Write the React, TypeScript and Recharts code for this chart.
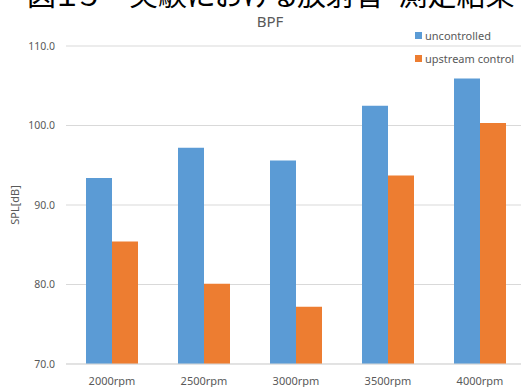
import React from 'react';
import { BarChart, Bar, XAxis, YAxis, CartesianGrid } from 'recharts';

// Sound pressure level at blade passing frequency, per rotation speed
const categories = ['2000rpm', '2500rpm', '3000rpm', '3500rpm', '4000rpm'];
const uncontrolled = [93.4, 97.2, 95.6, 102.5, 105.9];
const upstreamControl = [85.4, 80.1, 77.2, 93.7, 100.3];
const yTicks = [70, 80, 90, 100, 110];

const FONT = '"Noto Sans", "Noto Sans CJK JP", sans-serif';
const TEXT_GRAY = '#595959';
const BLUE = '#5B9BD5';
const ORANGE = '#ED7D31';

const series = [
  { key: 'uncontrolled', name: 'uncontrolled', color: BLUE, values: uncontrolled },
  { key: 'upstream', name: 'upstream control', color: ORANGE, values: upstreamControl },
];

const data = categories.map((name, i) => {
  const row: Record<string, string | number> = { name };
  series.forEach((s) => {
    row[s.key] = s.values[i];
  });
  return row;
});

const renderYLabel = (props: any) => {
  const vb = props.viewBox || { y: 46, height: 318 };
  const cy = vb.y + vb.height / 2;
  const x = 19;
  return (
    <text
      x={x}
      y={cy}
      transform={`rotate(-90 ${x} ${cy})`}
      textAnchor="middle"
      fill={TEXT_GRAY}
      fontSize={11}
      fontFamily={FONT}
    >
      SPL[dB]
    </text>
  );
};

function ChartLegend() {
  return (
    <div
      style={{
        position: 'absolute',
        left: 415,
        top: 24,
        fontFamily: FONT,
        fontSize: 11,
        color: TEXT_GRAY,
      }}
    >
      {series.map((s) => (
        <div key={s.key} style={{ display: 'flex', alignItems: 'center', height: 23, whiteSpace: 'nowrap' }}>
          <span style={{ display: 'inline-block', width: 7, height: 7, background: s.color, marginRight: 3 }} />
          <span>{s.name}</span>
        </div>
      ))}
    </div>
  );
}

export default function App() {
  return (
    <div
      style={{
        position: 'absolute',
        left: 0,
        top: 0,
        width: 521,
        height: 387,
        overflow: 'hidden',
        background: '#ffffff',
      }}
    >
      <div style={{ position: 'absolute', left: 0, top: 0 }}>
        <BarChart
          width={540}
          height={387}
          data={data}
          margin={{ top: 46, right: 14, bottom: 0, left: 0 }}
          barCategoryGap={20}
          barGap={0}
        >
          <CartesianGrid vertical={false} stroke="#D9D9D9" />
          <XAxis
            dataKey="name"
            height={23}
            axisLine={{ stroke: '#D9D9D9' }}
            tickLine={false}
            tickMargin={7}
            tick={{ fill: TEXT_GRAY, fontSize: 11, fontFamily: FONT }}
            interval={0}
          />
          <YAxis
            width={66}
            domain={[70, 110]}
            ticks={yTicks}
            axisLine={false}
            tickLine={false}
            tickMargin={5}
            tickFormatter={(v: number) => v.toFixed(1)}
            tick={{ fill: TEXT_GRAY, fontSize: 10.5, fontFamily: FONT }}
            label={{ content: renderYLabel }}
          />
          {series.map((s) => (
            <Bar key={s.key} dataKey={s.key} name={s.name} fill={s.color} isAnimationActive={false} />
          ))}
        </BarChart>
      </div>
      <svg width={521} height={40} style={{ position: 'absolute', left: 0, top: 0 }}>
        <text
          x={27}
          y={6}
          fontSize={29}
          fontFamily='"Noto Sans CJK JP", sans-serif'
          fill="#000000"
          style={{ fontFeatureSettings: '"palt"' }}
        >
          図１５　実験における放射音･測定結果
        </text>
        <text x={270} y={27} textAnchor="middle" fontSize={15} fontFamily={FONT} fill={TEXT_GRAY}>
          BPF
        </text>
      </svg>
      <ChartLegend />
    </div>
  );
}
